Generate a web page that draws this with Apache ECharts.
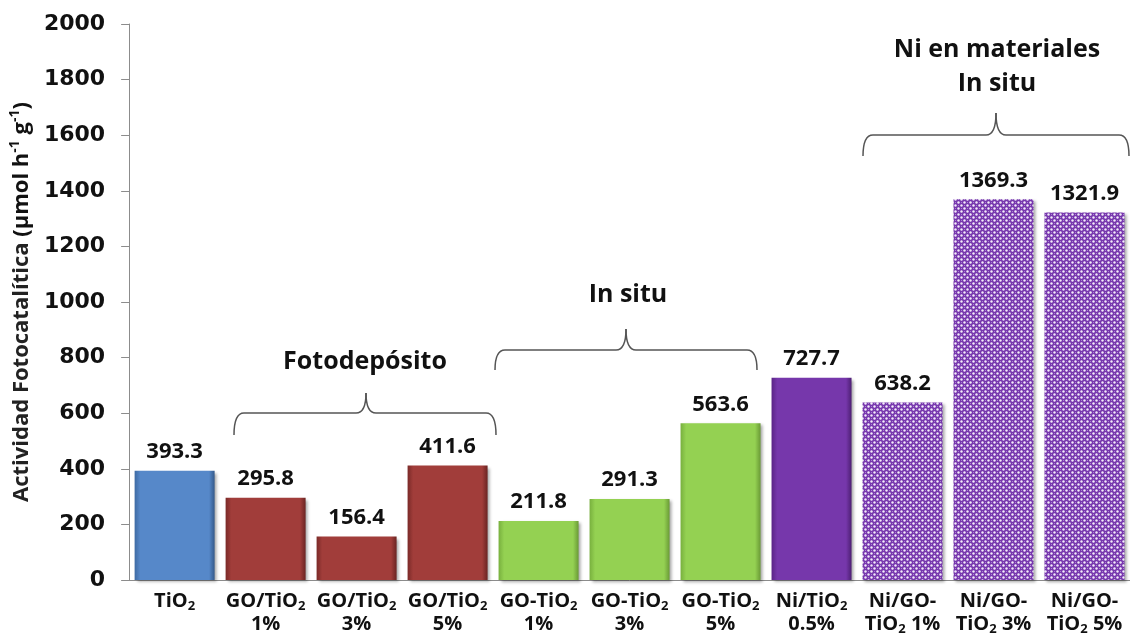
<!DOCTYPE html>
<html>
<head>
<meta charset="utf-8">
<script src="https://cdn.jsdelivr.net/npm/echarts@6/dist/echarts.min.js"></script>
<style>
  html, body { margin: 0; padding: 0; background: #fff; }
  #chart { width: 1130px; height: 638px; }
</style>
</head>
<body>
<div id="chart"></div>
<script>
// data
const categories = ['TiO2', 'GO/TiO2 1%', 'GO/TiO2 3%', 'GO/TiO2 5%', 'GO-TiO2 1%', 'GO-TiO2 3%', 'GO-TiO2 5%',
  'Ni/TiO2 0.5%', 'Ni/GO-TiO2 1%', 'Ni/GO-TiO2 3%', 'Ni/GO-TiO2 5%']
const tickLabels = ['TiO{s|2}', 'GO/TiO{s|2}\n1%', 'GO/TiO{s|2}\n3%', 'GO/TiO{s|2}\n5%',
  'GO-TiO{s|2}\n1%', 'GO-TiO{s|2}\n3%', 'GO-TiO{s|2}\n5%', 'Ni/TiO{s|2}\n0.5%',
  'Ni/GO-\nTiO{s|2} 1%', 'Ni/GO-\nTiO{s|2} 3%', 'Ni/GO-\nTiO{s|2} 5%']
const activity = [393.3, 295.8, 156.4, 411.6, 211.8, 291.3, 563.6, 727.7, 638.2, 1369.3, 1321.9]
const groupOf = ['base', 'foto', 'foto', 'foto', 'situ', 'situ', 'situ', 'ni', 'nigo', 'nigo', 'nigo']

function bevel (edge, mid, edge2) {
  return {
    type: 'linear', x: 0, y: 0, x2: 1, y2: 0,
    colorStops: [
      { offset: 0, color: edge },
      { offset: 0.07, color: mid },
      { offset: 0.93, color: mid },
      { offset: 1, color: edge2 }
    ]
  }
}

// white dot pattern for the Ni/GO bars
const pc = document.createElement('canvas')
pc.width = 6
pc.height = 6
const pctx = pc.getContext('2d')
pctx.fillStyle = '#7636ad'
pctx.fillRect(0, 0, 6, 6)
pctx.fillStyle = '#f3ecfa'
pctx.beginPath(); pctx.arc(1.5, 1.5, 1.2, 0, Math.PI * 2); pctx.fill()
pctx.beginPath(); pctx.arc(4.5, 4.5, 1.2, 0, Math.PI * 2); pctx.fill()
pctx.fillStyle = '#a880d0'
pctx.fillRect(4, 1, 1, 1)
pctx.fillRect(1, 4, 1, 1)

const fills = {
  base: bevel('#3d6aa3', '#5688c9', '#34598a'),
  foto: bevel('#7a2a28', '#a13d3a', '#6a2422'),
  situ: bevel('#78b03e', '#94d152', '#6a9a36'),
  ni: bevel('#5a2486', '#7637ab', '#4d1f73'),
  nigo: { image: pc, repeat: 'repeat' }
}

const barData = activity.map((v, i) => ({
  value: v,
  itemStyle: { color: fills[groupOf[i]] }
}))

const braceStyle = { stroke: '#555', lineWidth: 1.5, fill: null }

// curly brace out of curves and lines
function brace (x1, x2, xm, yb, yh, yt) {
  const r = 10
  const curve = (a, b, c, d, cx, cy) => ({ type: 'bezierCurve', shape: { x1: a, y1: b, x2: c, y2: d, cpx1: cx, cpy1: cy }, style: braceStyle })
  const line = (a, b, c, d) => ({ type: 'line', shape: { x1: a, y1: b, x2: c, y2: d }, style: braceStyle })
  return [
    curve(x1, yb, x1 + r, yh, x1, yh),
    line(x1 + r, yh, xm - r, yh),
    curve(xm - r, yh, xm, yt, xm, yh),
    curve(xm, yt, xm + r, yh, xm, yh),
    line(xm + r, yh, x2 - r, yh),
    curve(x2 - r, yh, x2, yb, x2, yh)
  ]
}

const txtFont = 'Open Sans'
const groupText = (x, y, t) => ({
  type: 'text', x: x, y: y,
  style: { text: t, font: 'bold 25px "Open Sans"', fill: '#111', align: 'center', verticalAlign: 'middle' }
})

const option = {
  animation: false,
  grid: { left: 128, top: 24, width: 1012, bottom: 58 },
  xAxis: {
    type: 'category',
    data: categories,
    axisLine: { lineStyle: { color: '#8c8c8c', width: 1 } },
    axisTick: { show: false },
    axisLabel: {
      interval: 0,
      margin: 10,
      color: '#111',
      fontFamily: txtFont,
      fontSize: 20,
      fontWeight: 'bold',
      lineHeight: 23,
      formatter: (v, i) => tickLabels[i],
      rich: {
        s: { fontFamily: txtFont, fontSize: 13, fontWeight: 'bold', color: '#111', verticalAlign: 'bottom', padding: [9, 0, 0, 0] }
      }
    }
  },
  yAxis: {
    type: 'value',
    min: 0,
    max: 2000,
    interval: 200,
    splitLine: { show: false },
    axisLine: { show: true, lineStyle: { color: '#8c8c8c', width: 1 } },
    axisTick: { show: true, length: 8, lineStyle: { color: '#8c8c8c' } },
    axisLabel: {
      margin: 24, color: '#111', fontFamily: 'DejaVu Sans', fontSize: 22, fontWeight: 'bold',
      formatter: v => String(v)
    },
    name: '{a|Actividad Fotocatalítica }{b|(µmol h}{u|-1}{b| g}{u|-1}{b|)}',
    nameLocation: 'middle',
    nameRotate: 90,
    nameGap: 92,
    nameTextStyle: {
      rich: {
        a: { fontFamily: txtFont, fontSize: 22, fontWeight: 'bold', color: '#222', lineHeight: 28 },
        b: { fontFamily: txtFont, fontSize: 22, fontWeight: 'bold', color: '#111', lineHeight: 28 },
        u: { fontFamily: txtFont, fontSize: 14, fontWeight: 'bold', color: '#111', verticalAlign: 'top', lineHeight: 28 }
      }
    }
  },
  series: [{
    type: 'bar',
    barWidth: 80,
    data: barData,
    itemStyle: {
      shadowColor: 'rgba(0,0,0,0.35)',
      shadowBlur: 3,
      shadowOffsetX: 2,
      shadowOffsetY: 2
    },
    label: {
      show: true,
      position: 'top',
      distance: 8,
      color: '#111',
      fontFamily: txtFont,
      fontSize: 22,
      fontWeight: 'bold',
      formatter: p => p.value.toFixed(1)
    }
  }],
  graphic: [].concat(
    brace(234, 496, 366, 435, 413, 393),
    [groupText(365, 362, 'Fotodepósito')],
    brace(495, 757, 626, 370, 350, 329),
    [groupText(628, 295, 'In situ')],
    brace(863, 1129, 996, 156, 135, 113),
    [groupText(997, 50, 'Ni en materiales'), groupText(997, 84, 'In situ')]
  )
}

const chart = echarts.init(document.getElementById('chart'))
chart.setOption(option)
</script>
</body>
</html>
